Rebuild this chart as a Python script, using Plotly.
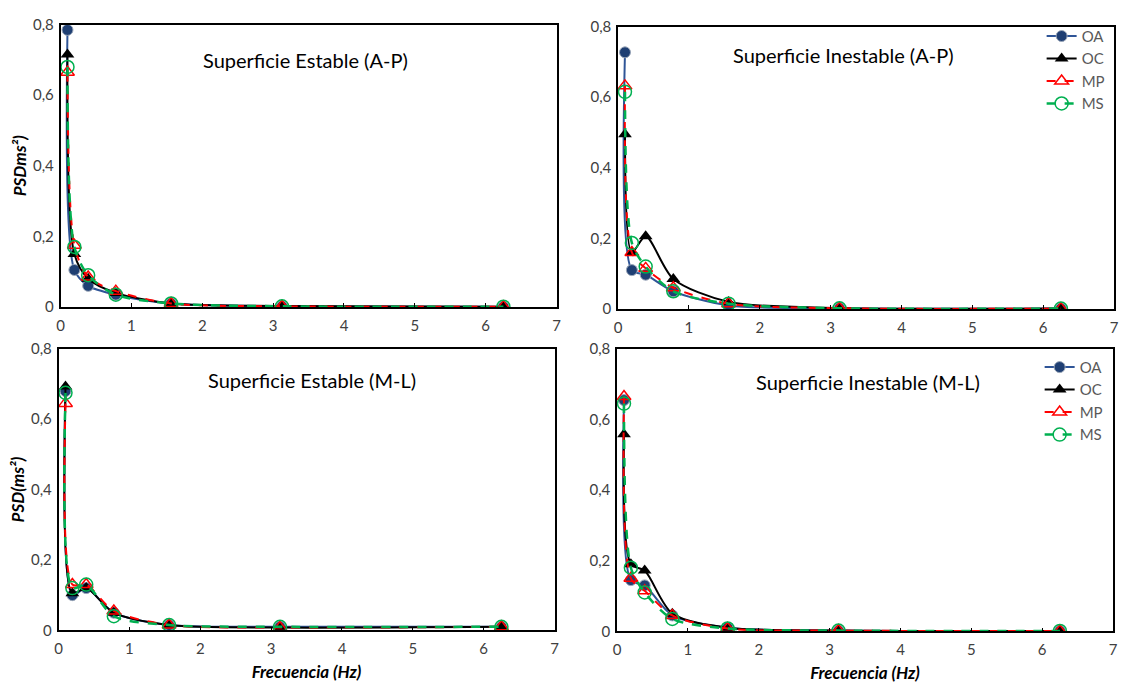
import plotly.graph_objects as go

# ---------------- data ----------------
freq = [0.098, 0.195, 0.39, 0.78, 1.56, 3.125, 6.25]
series_names = ["OA", "OC", "MP", "MS"]

# Superficie Estable (A-P)
est_ap_oa = [0.785, 0.105, 0.060, 0.035, 0.010, 0.002, 0.001]
est_ap_oc = [0.715, 0.150, 0.080, 0.040, 0.010, 0.003, 0.001]
est_ap_mp = [0.665, 0.175, 0.085, 0.045, 0.010, 0.002, 0.001]
est_ap_ms = [0.680, 0.170, 0.090, 0.035, 0.010, 0.002, 0.001]

# Superficie Inestable (A-P)
ine_ap_oa = [0.727, 0.110, 0.097, 0.050, 0.010, 0.002, 0.001]
ine_ap_oc = [0.495, 0.160, 0.206, 0.085, 0.020, 0.003, 0.001]
ine_ap_mp = [0.632, 0.160, 0.115, 0.060, 0.015, 0.002, 0.001]
ine_ap_ms = [0.615, 0.187, 0.120, 0.050, 0.015, 0.002, 0.001]

# Superficie Estable (M-L)
est_ml_oa = [0.680, 0.100, 0.120, 0.050, 0.015, 0.010, 0.010]
est_ml_oc = [0.693, 0.105, 0.120, 0.050, 0.015, 0.008, 0.010]
est_ml_mp = [0.645, 0.130, 0.130, 0.055, 0.015, 0.008, 0.010]
est_ml_ms = [0.675, 0.120, 0.130, 0.040, 0.015, 0.010, 0.010]

# Superficie Inestable (M-L)
ine_ml_oa = [0.655, 0.145, 0.130, 0.045, 0.010, 0.002, 0.001]
ine_ml_oc = [0.558, 0.190, 0.172, 0.050, 0.010, 0.002, 0.001]
ine_ml_mp = [0.665, 0.150, 0.115, 0.045, 0.008, 0.002, 0.001]
ine_ml_ms = [0.645, 0.180, 0.110, 0.035, 0.008, 0.002, 0.001]

panel_titles = ["Superficie Estable (A-P)", "Superficie Inestable (A-P)",
                "Superficie Estable (M-L)", "Superficie Inestable (M-L)"]
y_titles = ["<b><i>PSDms²)</i></b>", "", "<b><i>PSD(ms²)</i></b>", ""]
x_title = "<b><i>Frecuencia (Hz)</i></b>"
y_ticks = [0, 0.2, 0.4, 0.6, 0.8]
x_ticks = [0, 1, 2, 3, 4, 5, 6, 7]

panels = [
    [est_ap_oa, est_ap_oc, est_ap_mp, est_ap_ms],
    [ine_ap_oa, ine_ap_oc, ine_ap_mp, ine_ap_ms],
    [est_ml_oa, est_ml_oc, est_ml_mp, est_ml_ms],
    [ine_ml_oa, ine_ml_oc, ine_ml_mp, ine_ml_ms],
]

# ---------------- styles ----------------
W, H = 1125, 687
FONT = "Lato"
styles = [
    dict(line=dict(color="#2F5597", width=2, shape="spline", smoothing=0.8),
         marker=dict(symbol="circle", size=11, color="#1F3F73",
                     line=dict(color="#9AA6B8", width=1))),
    dict(line=dict(color="#000000", width=2, shape="spline", smoothing=0.8),
         marker=dict(symbol="triangle-up", size=12, color="#000000")),
    dict(line=dict(color="#FF0000", width=2, dash="dash", shape="spline", smoothing=0.8),
         marker=dict(symbol="triangle-up-open", size=12, color="#FF0000",
                     line=dict(color="#FF0000", width=1.5))),
    dict(line=dict(color="#00B050", width=2.5, dash="dash", shape="spline", smoothing=0.8),
         marker=dict(symbol="circle-open", size=13, color="#00B050",
                     line=dict(color="#00B050", width=1.5))),
]

# panel boxes in pixels: (left, right, top, bottom)
boxes = [(57, 557, 15, 305), (619, 1119, 17, 307),
         (55, 555, 348, 637), (618, 1118, 348, 638)]
# title centers in pixels
title_pos = [(304, 51), (846, 46), (310, 380), (871, 382)]
legend_for_panel = {1: "legend", 3: "legend2"}

fig = go.Figure()
for p, (vals, box) in enumerate(zip(panels, boxes)):
    ax = "" if p == 0 else str(p + 1)
    for s, name in enumerate(series_names):
        tr = go.Scatter(x=freq, y=vals[s], name=name, mode="lines+markers",
                        xaxis="x" + ax, yaxis="y" + ax, **styles[s],
                        showlegend=p in legend_for_panel)
        if p in legend_for_panel:
            tr.legend = legend_for_panel[p]
        fig.add_trace(tr)

    l, r, t, b = box
    xd = [l / W, r / W]
    yd = [1 - b / H, 1 - t / H]
    xa = dict(domain=xd, range=[0, 7], tickvals=x_ticks, showgrid=False,
              zeroline=False, showline=True, linecolor="black", linewidth=1.5,
              mirror=True, ticks="inside", ticklen=4, tickcolor="black",
              ticklabelstandoff=4,
              tickfont=dict(family=FONT, size=15, color="#404040"),
              anchor="y" + ax, fixedrange=True)
    if p >= 2:
        xa["title"] = dict(text=x_title, font=dict(family=FONT, size=17, color="#000000"),
                           standoff=10)
    ya = dict(domain=yd, range=[0, 0.8], tickvals=y_ticks, showgrid=False,
              zeroline=False, showline=True, linecolor="black", linewidth=1.5,
              mirror=True, ticks="", ticklabelstandoff=2,
              tickfont=dict(family=FONT, size=15, color="#404040"),
              anchor="x" + ax, fixedrange=True)
    if y_titles[p]:
        ya["title"] = dict(text=y_titles[p], font=dict(family=FONT, size=17, color="#000000"),
                           standoff=2)
    fig.update_layout(**{"xaxis" + ax: xa, "yaxis" + ax: ya})

    tx, ty = title_pos[p]
    fig.add_annotation(text=panel_titles[p], x=tx / W, y=1 - ty / H, xref="paper",
                       yref="paper", showarrow=False, xanchor="center", yanchor="middle",
                       font=dict(family=FONT, size=20, color="#000000"))

legend_style = dict(font=dict(family=FONT, size=15, color="#595959"),
                    bgcolor="rgba(0,0,0,0)", borderwidth=0, tracegroupgap=0,
                    itemwidth=30, xanchor="left", yanchor="top")
fig.update_layout(
    width=W, height=H,
    margin=dict(l=0, r=0, t=0, b=0),
    paper_bgcolor="white", plot_bgcolor="white",
    separators=", ",
    legend=dict(x=1046 / W, y=1 - 10 / H, **legend_style),
    legend2=dict(x=1044 / W, y=1 - 350 / H, **legend_style),
    font=dict(family=FONT),
)

fig.write_html("out.html")
